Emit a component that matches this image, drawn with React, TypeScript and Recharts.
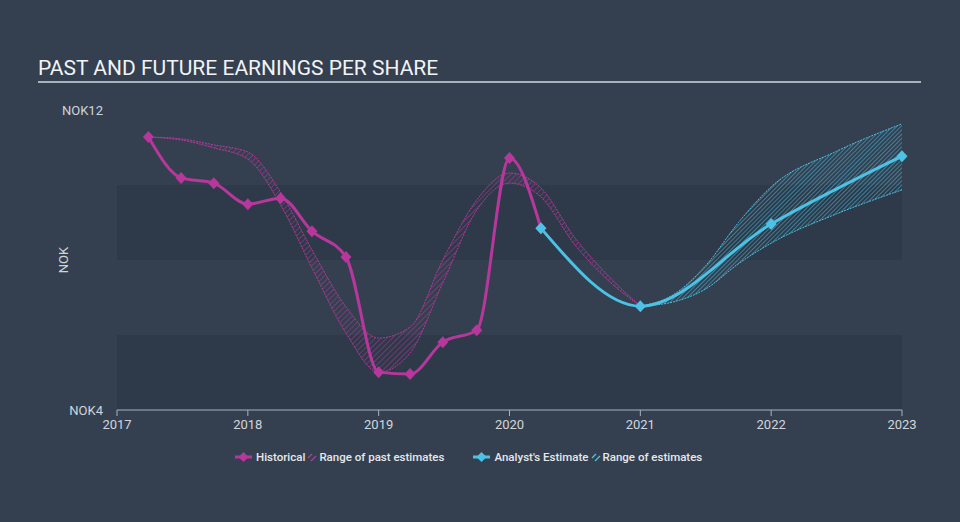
import React from "react";
import {
  ComposedChart,
  Line,
  Area,
  XAxis,
  YAxis,
  ReferenceArea,
} from "recharts";

// values (t = fractional year)
const histT = [2017.24, 2017.49, 2017.74, 2018.0, 2018.25, 2018.49, 2018.75, 2019.0, 2019.24, 2019.49, 2019.75, 2020.0, 2020.24];
const histEps = [11.28, 10.19, 10.05, 9.49, 9.65, 8.77, 8.08, 5.01, 4.96, 5.81, 6.13, 10.72, 8.85];

const pastRangeT = [2017.24, 2017.49, 2017.74, 2018.0, 2018.25, 2018.49, 2018.75, 2019.0, 2019.24, 2019.49, 2019.75, 2020.0, 2020.24, 2020.5, 2020.75, 2021.0];
const pastLow = [11.28, 11.2, 10.99, 10.69, 9.47, 7.79, 6.05, 5.01, 5.52, 7.39, 9.33, 10.05, 9.68, 8.4, 7.47, 6.77];
const pastHigh = [11.28, 11.23, 11.07, 10.88, 9.81, 8.27, 6.75, 5.92, 6.21, 8.0, 9.6, 10.32, 9.92, 8.59, 7.6, 6.77];

const estT = [2020.24, 2021.0, 2022.0, 2023.0];
const estEps = [8.85, 6.77, 8.96, 10.77];

const futRangeT = [2021.0, 2021.25, 2021.5, 2021.75, 2022.0, 2022.5, 2023.0];
const futLow = [6.77, 6.88, 7.23, 7.9, 8.45, 9.23, 9.87];
const futHigh = [6.77, 7.07, 7.85, 9.0, 9.95, 10.9, 11.63];

const xTicks = [2017, 2018, 2019, 2020, 2021, 2022, 2023];
const yTicks = [4, 12];
const stripes = [
  [8, 10],
  [4, 6],
];

const historical = histT.map((t, i) => ({ t, v: histEps[i] }));
const pastRange = pastRangeT.map((t, i) => ({ t, r: [pastLow[i], pastHigh[i]] }));
const estimate = estT.map((t, i) => ({ t, v: estEps[i] }));
const futureRange = futRangeT.map((t, i) => ({ t, r: [futLow[i], futHigh[i]] }));

const BG = "#344050";
const STRIPE = "#2e3a49";
const MAGENTA = "#b8379c";
const CYAN = "#4cc3e6";
const FONT = "Roboto, 'Noto Sans', sans-serif";

const diamond = (color: string) => (props: any) => {
  const { cx, cy, index } = props;
  if (cx == null || cy == null) return <g key={index} />;
  return (
    <path
      key={index}
      d={`M${cx},${cy - 6} L${cx + 5.5},${cy} L${cx},${cy + 6} L${cx - 5.5},${cy} Z`}
      fill={color}
    />
  );
};

const LegendLine = ({ color }: { color: string }) => (
  <svg width="17" height="12" style={{ marginRight: 4 }}>
    <line x1="0" y1="6" x2="17" y2="6" stroke={color} strokeWidth="3" />
    <path d="M8.5,1 L13.5,6 L8.5,11 L3.5,6 Z" fill={color} />
  </svg>
);

const LegendHatch = ({ color }: { color: string }) => (
  <svg width="10" height="10" style={{ margin: "0 2px 0 2px" }}>
    <line x1="1" y1="6" x2="5" y2="2" stroke={color} strokeWidth="1.2" />
    <line x1="4" y1="9" x2="9" y2="4" stroke={color} strokeWidth="1.2" />
  </svg>
);

const NokLabel = (props: any) => {
  const vb = props.viewBox || {};
  const x = (vb.x ?? 57) + 6;
  const y = (vb.y ?? 110) + (vb.height ?? 300) / 2;
  return (
    <text
      x={x}
      y={y}
      transform={`rotate(-90 ${x} ${y})`}
      textAnchor="middle"
      dominantBaseline="central"
      fill="#cfd4da"
      fontSize={13}
      fontFamily={FONT}
    >
      NOK
    </text>
  );
};

export default function App() {
  return (
    <div
      style={{
        position: "absolute",
        left: 0,
        top: 0,
        width: 960,
        height: 522,
        background: BG,
        fontFamily: FONT,
        overflow: "hidden",
      }}
    >
      <div
        style={{
          position: "absolute",
          left: 38,
          top: 58,
          fontSize: 21,
          lineHeight: "21px",
          color: "#f2f3f5",
          whiteSpace: "nowrap",
        }}
      >
        PAST AND FUTURE EARNINGS PER SHARE
      </div>
      <div
        style={{
          position: "absolute",
          left: 38,
          top: 81,
          width: 883,
          height: 2,
          background: "#aab2bb",
        }}
      />
      <ComposedChart
        width={960}
        height={522}
        margin={{ top: 110, right: 58, bottom: 82, left: 57 }}
      >
        <defs>
          <pattern id="hatchPast" width="4" height="4" patternUnits="userSpaceOnUse" patternTransform="rotate(45)">
            <line x1="0" y1="0" x2="0" y2="4" stroke={MAGENTA} strokeWidth="1" />
          </pattern>
          <pattern id="hatchFut" width="3" height="3" patternUnits="userSpaceOnUse" patternTransform="rotate(45)">
            <line x1="0" y1="0" x2="0" y2="3" stroke={CYAN} strokeWidth="1" />
          </pattern>
        </defs>
        {stripes.map(([a, b]) => (
          <ReferenceArea
            key={a}
            x1={2017}
            x2={2023}
            y1={a}
            y2={b}
            fill={STRIPE}
            fillOpacity={1}
            stroke="none"
          />
        ))}
        <XAxis
          dataKey="t"
          type="number"
          domain={[2017, 2023]}
          ticks={xTicks}
          allowDuplicatedCategory={false}
          stroke="#a9b1bc"
          tick={{ fill: "#d2d6dc", fontSize: 13, fontFamily: FONT }}
          tickSize={6}
          tickMargin={4}
          height={30}
        />
        <YAxis
          type="number"
          domain={[4, 12]}
          ticks={yTicks}
          width={60}
          axisLine={false}
          tickLine={false}
          tickSize={0}
          tickMargin={14}
          tickFormatter={(v: number) => `NOK${v}`}
          tick={{ fill: "#cfd4da", fontSize: 13, fontFamily: FONT }}
          label={<NokLabel />}
        />
        <Area
          data={pastRange}
          dataKey="r"
          type="monotone"
          fill="url(#hatchPast)"
          fillOpacity={1}
          stroke={MAGENTA}
          strokeWidth={1}
          strokeDasharray="2 1"
          isAnimationActive={false}
        />
        <Area
          data={futureRange}
          dataKey="r"
          type="monotone"
          fill="url(#hatchFut)"
          fillOpacity={1}
          stroke={CYAN}
          strokeWidth={1}
          strokeDasharray="2 1"
          isAnimationActive={false}
        />
        <Line
          data={historical}
          dataKey="v"
          type="monotone"
          stroke={MAGENTA}
          strokeWidth={3}
          dot={diamond(MAGENTA)}
          activeDot={false}
          isAnimationActive={false}
        />
        <Line
          data={estimate}
          dataKey="v"
          type="monotone"
          stroke={CYAN}
          strokeWidth={3}
          dot={diamond(CYAN)}
          activeDot={false}
          isAnimationActive={false}
        />
      </ComposedChart>
      <div
        style={{
          position: "absolute",
          top: 450,
          left: 235,
          display: "flex",
          alignItems: "center",
          fontSize: 11.5,
          fontWeight: 500,
          color: "#e6e8eb",
          whiteSpace: "nowrap",
          lineHeight: "14px",
        }}
      >
        <LegendLine color={MAGENTA} />
        <span>Historical</span>
        <LegendHatch color={MAGENTA} />
        <span>Range of past estimates</span>
        <span style={{ width: 29 }} />
        <LegendLine color={CYAN} />
        <span>Analyst's Estimate</span>
        <LegendHatch color={CYAN} />
        <span>Range of estimates</span>
      </div>
    </div>
  );
}
